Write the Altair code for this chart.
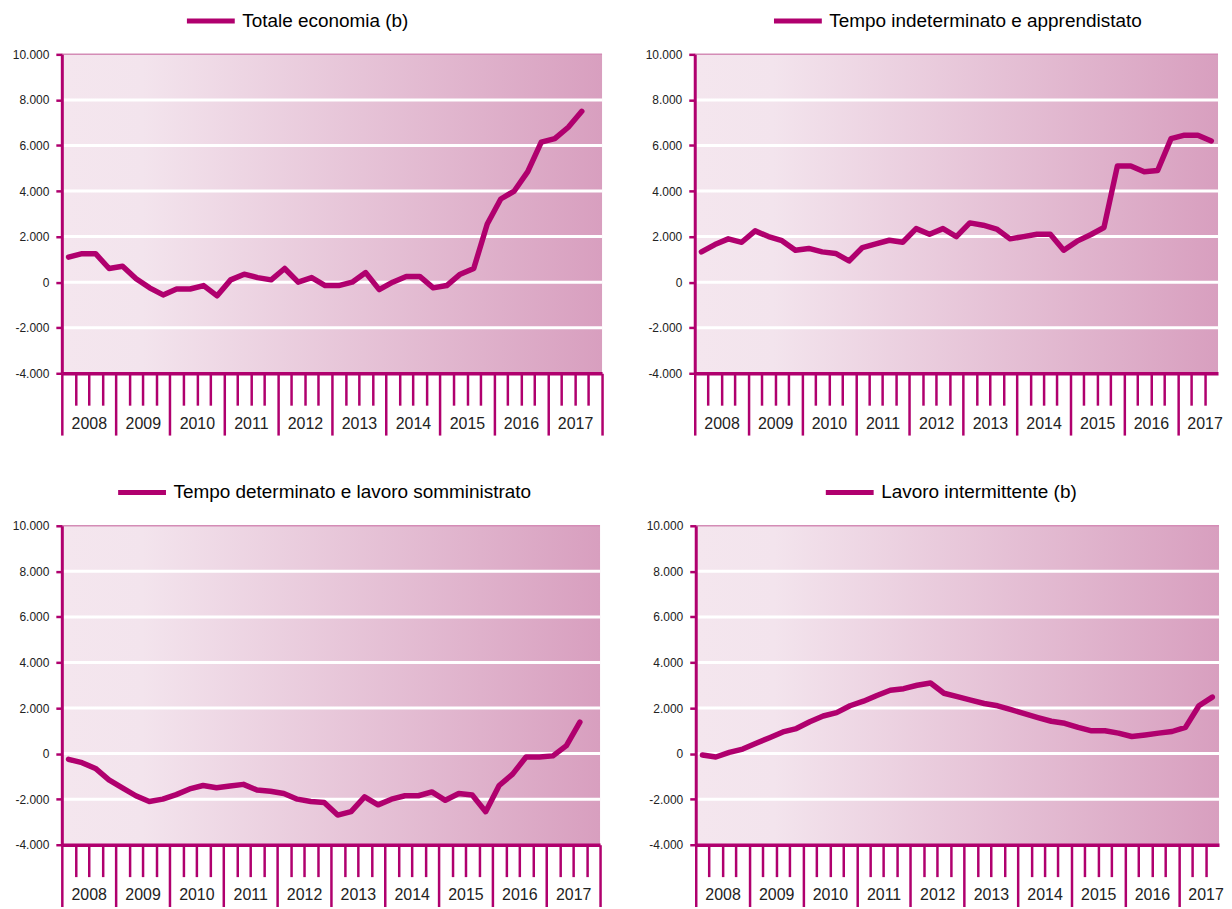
import altair as alt
import pandas as pd

# ---- data (quarterly, 2008 Q1 .. 2017 Q3) ----
years = list(range(2008, 2018))
totale = [1100, 1250, 1250, 600, 700, 150, -250, -560, -300, -300, -150, -600,
          100, 350, 200, 100, 600, 0, 200, -150, -150, 0, 420, -330,
          0, 250, 250, -250, -150, 350, 600, 2550, 3650, 4000, 4850, 6150,
          6300, 6800, 7500]
indeterminato = [1330, 1650, 1900, 1750, 2250, 2000, 1820, 1400, 1480, 1330, 1260, 930,
                 1520, 1680, 1840, 1750, 2350, 2100, 2350, 2000, 2600, 2500, 2330, 1900,
                 2000, 2100, 2100, 1400, 1800, 2080, 2400, 5100, 5100, 4850, 4900, 6300,
                 6450, 6450, 6200]
determinato = [-250, -400, -650, -1150, -1500, -1850, -2100, -2000, -1800, -1550, -1400, -1500,
               -1420, -1350, -1600, -1650, -1750, -2000, -2100, -2150, -2700, -2550, -1900, -2250,
               -2000, -1850, -1850, -1680, -2050, -1750, -1820, -2550, -1400, -900, -150, -150,
               -100, 350, 1380]
intermittente = [-60, -150, 50, 200, 450, 700, 950, 1100, 1400, 1650, 1800, 2100,
                 2300, 2550, 2780, 2850, 3000, 3100, 2650, 2500, 2350, 2200, 2100, 1930,
                 1750, 1580, 1420, 1330, 1150, 1000, 1000, 900, 750, 820, 900, 970,
                 1150, 2100, 2480]
titles = ["Totale economia (b)", "Tempo indeterminato e apprendistato",
          "Tempo determinato e lavoro somministrato", "Lavoro intermittente (b)"]
y_ticks = [-4000, -2000, 0, 2000, 4000, 6000, 8000, 10000]
grid_vals = [-2000, 0, 2000, 4000, 6000, 8000]

MAG = "#b0006e"
FONT = "Liberation Sans"
NQ = 4 * len(years)
year_mid = [4 * k + 2 for k in range(len(years))]

GRAD = {"gradient": "linear", "x1": 0, "x2": 1, "y1": 0, "y2": 0,
        "stops": [{"offset": 0, "color": "#f4e6ee"},
                  {"offset": 0.15, "color": "#f3e4ed"},
                  {"offset": 1, "color": "#d89fbf"}]}

YLABEL = ("datum.value == 0 ? '0' : (datum.value < 0 ? '-' : '') + "
          "abs(datum.value) / 1000 + '.000'")


def panel(values, title, width, height, yext, lx, ly, xmax=NQ):
    xs = alt.Scale(domain=[0, xmax], nice=False, zero=False)
    ys = alt.Scale(domain=[-4000, 10000], nice=False, zero=False)
    year_bounds = [q for q in range(0, NQ + 1, 4) if q <= xmax]
    quarter_ticks = [q for q in range(1, NQ) if q % 4 and q < xmax]
    df = pd.DataFrame({"t": [i + 0.5 for i in range(len(values))],
                       "v": values, "serie": title})
    box = pd.DataFrame({"x0": [0], "x1": [xmax], "y0": [-4000], "y1": [10000]})
    grid = pd.DataFrame({"g": grid_vals})

    bg = alt.Chart(box).mark_rect(fill=GRAD).encode(
        x=alt.X("x0:Q", scale=xs, axis=alt.Axis(
            values=year_bounds, labels=False, tickSize=62, tickWidth=2.5,
            tickColor=MAG, domainColor=MAG, domainWidth=3.5, grid=False,
            title=None, orient="bottom", zindex=1)),
        x2="x1",
        y=alt.Y("y0:Q", scale=ys, axis=alt.Axis(
            values=y_ticks, labelExpr=YLABEL, tickSize=6, tickWidth=2.5,
            tickColor=MAG, domainColor=MAG, domainWidth=3, grid=False,
            labelFont=FONT, labelFontSize=12, labelColor="#222",
            labelPadding=7, title=None, zindex=1, orient="left",
            minExtent=yext, maxExtent=yext)),
        y2="y1",
    )
    rules = alt.Chart(grid).mark_rule(color="white", strokeWidth=3).encode(
        y=alt.Y("g:Q", scale=ys, axis=None))
    top = alt.Chart(box).mark_rule(color="#d48cb6", strokeWidth=1.5).encode(
        x=alt.X("x0:Q", scale=xs, axis=alt.Axis(
            values=year_mid, ticks=False, domain=False, grid=False, title=None,
            labelExpr="2007.5 + datum.value / 4", labelFont=FONT,
            labelFontSize=16, labelColor="#222", labelPadding=42,
            labelOverlap=False, labelFlush=False, orient="bottom", zindex=1)),
        x2="x1",
        y=alt.Y("y1:Q", scale=ys, axis=None),
    )
    line = alt.Chart(df).mark_line(strokeWidth=5.5, strokeJoin="round",
                                   strokeCap="round").encode(
        x=alt.X("t:Q", scale=xs, axis=alt.Axis(
            values=quarter_ticks, labels=False, tickSize=32, tickWidth=2.5,
            tickColor=MAG, domain=False, grid=False, title=None,
            orient="bottom", zindex=1)),
        y=alt.Y("v:Q", scale=ys, axis=None),
        color=alt.Color("serie:N", scale=alt.Scale(domain=[title], range=[MAG]),
                        legend=alt.Legend(
                            orient="none", legendX=lx, legendY=ly, title=None,
                            symbolType="M-3,0H3", symbolSize=256,
                            symbolStrokeWidth=5, labelFont=FONT,
                            labelFontSize=19, labelColor="#000",
                            labelOffset=21, padding=0, labelLimit=0)),
    )
    return (alt.layer(bg, rules, top, line)
            .resolve_axis(x="independent", y="independent")
            .properties(width=width, height=height))


p1 = panel(totale, titles[0], 542, 320, 54, 139, -44)
p2 = panel(indeterminato, titles[1], 525, 320, 50, 93, -44, xmax=39)
p3 = panel(determinato, titles[2], 540, 320, 54, 70, -44)
p4 = panel(intermittente, titles[3], 525, 320, 50, 144, -44, xmax=39)

row1 = alt.hconcat(p1, p2, spacing=41).resolve_scale(color="independent")
row2 = alt.hconcat(p3, p4, spacing=44).resolve_scale(color="independent")
chart = (alt.vconcat(row1, row2, spacing=45)
         .resolve_scale(color="independent")
         .properties(padding={"left": 0, "top": 1, "right": 0, "bottom": 0},
                     background="white")
         .configure_view(stroke=None))

chart.save("out.html", embed_options={"renderer": "svg", "actions": False})
